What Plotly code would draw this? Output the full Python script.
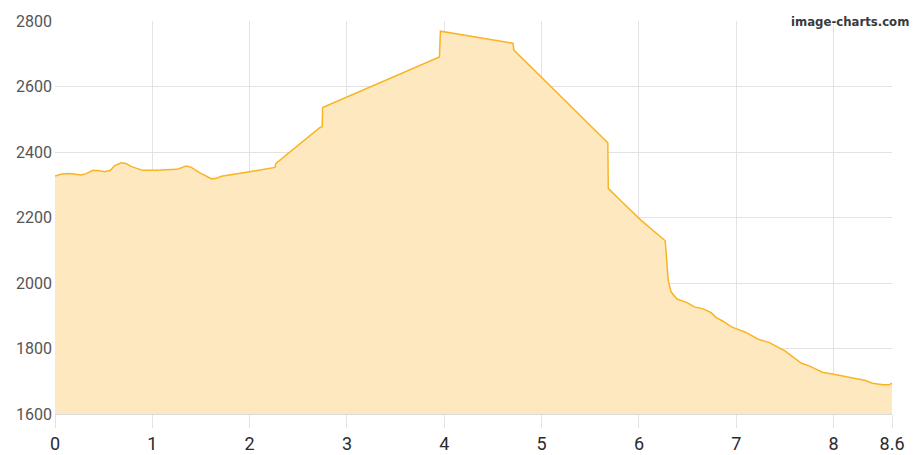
import plotly.graph_objects as go

# Elevation profile: distance (km) vs altitude (m)
distance = [0.00, 0.07, 0.15, 0.27, 0.32, 0.39, 0.46, 0.51, 0.57, 0.61, 0.68, 0.73,
            0.78, 0.90, 1.04, 1.14, 1.17, 1.25, 1.35, 1.40, 1.49, 1.61, 1.66, 1.71,
            2.00, 2.26, 2.27, 2.72, 2.745, 2.75, 3.95, 3.96, 4.705, 4.715, 5.68, 5.685,
            5.80, 6.02, 6.27, 6.30, 6.33, 6.39, 6.49, 6.57, 6.66, 6.74, 6.79, 6.86,
            6.95, 7.10, 7.22, 7.34, 7.50, 7.60, 7.67, 7.75, 7.89, 7.99, 8.09, 8.21,
            8.32, 8.40, 8.51, 8.57, 8.60]
altitude = [2327, 2333, 2334, 2330, 2334, 2344, 2343, 2340, 2344, 2358, 2367, 2365,
            2356, 2344, 2344, 2345, 2344, 2347, 2357, 2353, 2336, 2318, 2320, 2326,
            2340, 2353, 2365, 2474, 2477, 2536, 2690, 2769, 2732, 2711, 2428, 2289,
            2255, 2192, 2129, 2009, 1973, 1951, 1941, 1927, 1921, 1910, 1895, 1884,
            1866, 1849, 1829, 1818, 1793, 1772, 1755, 1747, 1727, 1722, 1717, 1709,
            1703, 1694, 1689, 1689, 1694]

x_ticks = [0, 1, 2, 3, 4, 5, 6, 7, 8, 8.6]
x_tick_text = ["0", "1", "2", "3", "4", "5", "6", "7", "8", "8.6"]
y_ticks = [1600, 1800, 2000, 2200, 2400, 2600, 2800]

fig = go.Figure()
fig.add_trace(go.Scatter(
    x=distance, y=altitude,
    mode="lines",
    line=dict(color="#F9B423", width=1.5),
    fill="tozeroy",
    fillcolor="#FDE8BF",
    hoverinfo="skip",
))

fig.update_layout(
    width=923, height=455,
    margin=dict(l=55, r=31, t=21, b=41, autoexpand=False),
    paper_bgcolor="white",
    plot_bgcolor="white",
    showlegend=False,
    font=dict(family="Roboto, Arial, sans-serif"),
)
fig.update_xaxes(
    range=[0, 8.6],
    automargin=False,
    tickvals=x_ticks, ticktext=x_tick_text,
    showgrid=True, gridcolor="#E3E3E3", gridwidth=1,
    zeroline=False,
    showline=True, linecolor="#D9D9D9", linewidth=1,
    ticks="outside", ticklen=13, tickcolor="#E3E3E3",
    tickfont=dict(size=18, color="#2B2B2B"),
    ticklabelstandoff=0,
)
fig.update_yaxes(
    range=[1600, 2800],
    automargin=False,
    tickvals=y_ticks,
    showgrid=True, gridcolor="#E3E3E3", gridwidth=1,
    zeroline=False,
    showline=False,
    ticks="",
    tickfont=dict(size=16, color="#555555"),
    ticklabelstandoff=2,
)

# Watermark in the top-right corner
fig.add_annotation(
    text="<b>image-charts.com</b>",
    xref="paper", yref="paper",
    x=1.0224, y=1.0, xanchor="right", yanchor="middle",
    showarrow=False,
    font=dict(family="DejaVu Sans Condensed, DejaVu Sans, sans-serif", size=13, color="#3A3A3A"),
)

fig.write_html("out.html")
